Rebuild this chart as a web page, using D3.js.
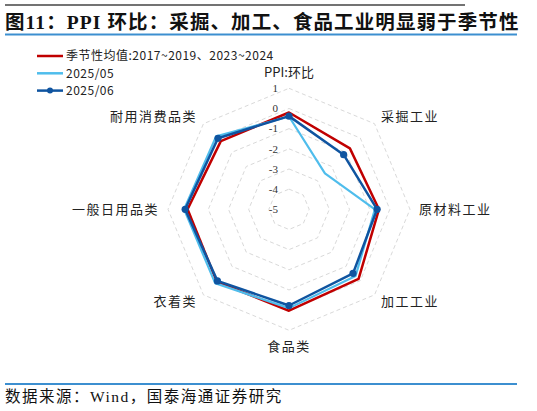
<!DOCTYPE html>
<html>
<head>
<meta charset="utf-8">
<script src="https://cdn.jsdelivr.net/npm/d3@7/dist/d3.min.js"></script>
<style>
  body { margin: 0; background: #fff; }
  svg { display: block; }
</style>
</head>
<body>
<div id="chart"></div>
<script>
// categories, clockwise from the top
let categories = ["PPI:环比", "采掘工业", "原材料工业", "加工工业", "食品类", "衣着类", "一般日用品类", "耐用消费品类"];
let seasonal = [-0.2, -0.73, -0.54, -0.12, 0.03, 0.07, 0.03, -0.22];
let may2025 = [-0.4, -2.48, -0.74, -0.33, -0.1, 0.18, 0.2, 0.11];
let jun2025 = [-0.38, -1.17, -0.63, -0.51, -0.23, 0.02, 0.15, -0.02];
let seriesNames = ["季节性均值:2017~2019、2023~2024", "2025/05", "2025/06"];
let tickValues = [1, 0, -1, -2, -3, -4, -5];

let width = 537, height = 411;
let cx = 289, cy = 209.3;
let cjk = "'Noto Sans CJK SC', sans-serif";
let serif = "'Liberation Serif', 'Noto Sans CJK SC', serif";

let svg = d3.select("#chart").append("svg")
    .attr("width", width)
    .attr("height", height);

// header lines + title
svg.append("line")
    .attr("x1", 5).attr("x2", 465).attr("y1", 5).attr("y2", 5)
    .attr("stroke", "#444").attr("stroke-width", 1.5);

svg.append("text")
    .attr("x", 5).attr("y", 29)
    .attr("font-family", serif)
    .attr("font-weight", "bold")
    .attr("font-size", 19.5)
    .attr("letter-spacing", 1.1)
    .attr("fill", "#111")
    .text("图11：PPI 环比：采掘、加工、食品工业明显弱于季节性");

svg.append("line")
    .attr("x1", 5).attr("x2", 517).attr("y1", 34.5).attr("y2", 34.5)
    .attr("stroke", "#3c8fd0").attr("stroke-width", 2);

// radial scale: -5 at the centre, 1 on the outer ring
let rScale = d3.scaleLinear()
    .domain([-5, 1])
    .range([0, 121]);

let angle = d3.scalePoint()
    .domain(d3.range(categories.length + 1))
    .range([0, 2 * Math.PI]);

const point = (v, i) => {
  let a = angle(i);
  return [cx + rScale(v) * Math.sin(a), cy - rScale(v) * Math.cos(a)];
};

let g = svg.append("g");

// dashed octagon gridlines
tickValues.filter(v => v > -5).forEach(v => {
  g.append("path")
      .attr("d", d3.line()(categories.map((c, i) => point(v, i))) + "Z")
      .attr("fill", "none")
      .attr("stroke", "#d9d9d9")
      .attr("stroke-width", 1)
      .attr("stroke-dasharray", "4,3");
});

// tick labels on the vertical axis
g.selectAll(".tick-label")
  .data(tickValues)
  .enter().append("text")
    .attr("class", "tick-label")
    .attr("x", cx - 11)
    .attr("y", d => cy - rScale(d))
    .attr("dy", "0.35em")
    .attr("text-anchor", "end")
    .attr("font-family", "'Liberation Serif', serif")
    .attr("font-size", 11)
    .attr("fill", "#333")
    .text(d => d);

// category labels around the outside
g.selectAll(".cat-label")
  .data(categories)
  .enter().append("text")
    .attr("class", "cat-label")
    .attr("x", (d, i) => cx + 130 * Math.sin(angle(i)))
    .attr("y", (d, i) => cy - 131 * Math.cos(angle(i)))
    .attr("dy", (d, i) => i == 0 ? "-0.1em" : (i == 4 ? "0.85em" : "0.35em"))
    .attr("text-anchor", (d, i) => i == 0 || i == 4 ? "middle" : (i < 4 ? "start" : "end"))
    .attr("font-family", cjk)
    .attr("font-size", 13)
    .attr("letter-spacing", (d, i) => i == 0 ? 0 : 1.5)
    .attr("fill", "#222")
    .text(d => d);

// series
let series = [
  {name: seriesNames[0], values: seasonal, color: "#c00000", width: 2.5, dots: false},
  {name: seriesNames[1], values: may2025, color: "#4fbdec", width: 2.2, dots: false},
  {name: seriesNames[2], values: jun2025, color: "#0f54a0", width: 2.5, dots: true}
];

let radar = d3.lineRadial()
    .angle((d, i) => angle(i))
    .radius(d => rScale(d))
    .curve(d3.curveLinearClosed);

series.forEach(s => {
  g.append("path")
      .datum(s.values)
      .attr("transform", "translate(" + cx + "," + cy + ")")
      .attr("fill", "none")
      .attr("stroke", s.color)
      .attr("stroke-width", s.width)
      .attr("stroke-linejoin", "round")
      .attr("d", radar);
  if (s.dots) {
    g.selectAll(null)
      .data(s.values)
      .enter().append("circle")
        .attr("cx", (d, i) => point(d, i)[0])
        .attr("cy", (d, i) => point(d, i)[1])
        .attr("r", 3.6)
        .attr("fill", s.color);
  }
});

// legend
let legend = svg.append("g");
series.forEach((s, i) => {
  let y = 56 + i * 17.3;
  legend.append("line")
      .attr("x1", 37).attr("x2", 63).attr("y1", y).attr("y2", y)
      .attr("stroke", s.color).attr("stroke-width", 2.5);
  if (s.dots) {
    legend.append("circle").attr("cx", 50).attr("cy", y).attr("r", 3).attr("fill", s.color);
  }
  legend.append("text")
      .attr("x", 66).attr("y", y)
      .attr("dy", "0.35em")
      .attr("font-family", cjk)
      .attr("font-size", 12)
      .attr("letter-spacing", 0.5)
      .attr("fill", "#222")
      .text(s.name);
});

// footer
svg.append("line")
    .attr("x1", 5).attr("x2", 517).attr("y1", 384).attr("y2", 384)
    .attr("stroke", "#3c8fd0").attr("stroke-width", 2);

svg.append("text")
    .attr("x", 5).attr("y", 402)
    .attr("font-family", serif)
    .attr("font-size", 15.5)
    .attr("letter-spacing", 1.5)
    .attr("fill", "#111")
    .text("数据来源：Wind，国泰海通证券研究");
</script>
</body>
</html>
